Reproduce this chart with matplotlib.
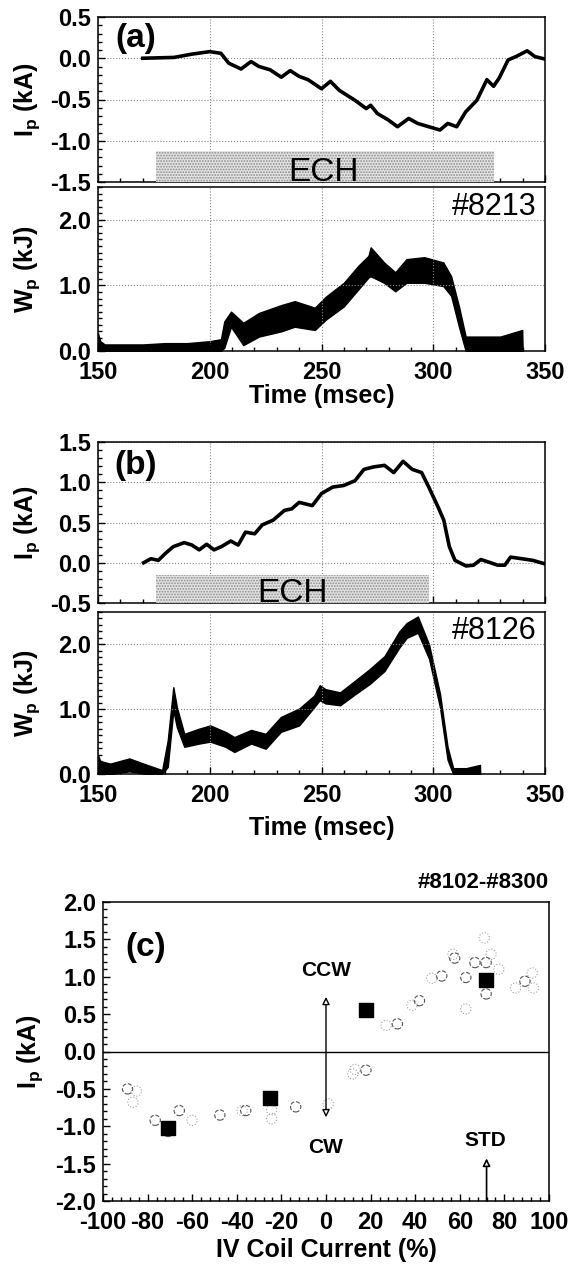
import matplotlib
matplotlib.use('Agg')
import matplotlib.pyplot as plt
from matplotlib.ticker import MultipleLocator, FormatStrFormatter
from matplotlib.patches import Rectangle

plt.rcParams['font.family'] = 'Liberation Sans'
plt.rcParams['font.weight'] = 'bold'
plt.rcParams['axes.labelweight'] = 'bold'
plt.rcParams['axes.titleweight'] = 'bold'
plt.rcParams['axes.unicode_minus'] = False
plt.rcParams['mathtext.fontset'] = 'custom'
plt.rcParams['mathtext.rm'] = 'Liberation Sans:bold'
plt.rcParams['mathtext.it'] = 'Liberation Sans:bold'
plt.rcParams['hatch.linewidth'] = 0.9

# ---- shot #8213 (a) ----
ip_a_t = [170, 184, 192, 200, 205, 208.5, 214, 218.5, 222, 227, 232, 236, 240, 244, 250, 254, 258,
          265, 270, 272, 275, 280, 284, 289, 293, 298, 303, 306.5, 310.5, 314.5, 319.5, 324, 327,
          329.5, 333.5, 337, 342, 345.5, 350]
ip_a = [0.0, 0.01, 0.05, 0.08, 0.06, -0.06, -0.13, -0.04, -0.10, -0.14, -0.23, -0.15, -0.22, -0.26,
        -0.37, -0.28, -0.39, -0.51, -0.61, -0.57, -0.67, -0.75, -0.83, -0.73, -0.79, -0.83, -0.87,
        -0.79, -0.83, -0.65, -0.51, -0.26, -0.34, -0.24, -0.02, 0.02, 0.09, 0.02, -0.01]

wp_a_t = [150, 151, 153, 160, 170, 180, 190, 200, 205, 206.5, 209.5, 215, 222, 232, 238, 247, 252,
          260, 266.5, 271, 272, 278, 283, 288, 296, 304.5, 308, 311.5, 314.5, 320, 330, 339.8, 340]
wp_a_lo = [0, 0, 0, 0, 0, 0, 0, 0, 0, 0.05, 0.37, 0.09, 0.22, 0.30, 0.37, 0.32, 0.48, 0.68, 0.94,
           1.12, 1.14, 1.04, 0.91, 1.04, 1.04, 0.99, 0.84, 0.37, 0.0, 0, 0, 0, 0]
wp_a_hi = [0.27, 0.15, 0.10, 0.10, 0.10, 0.12, 0.12, 0.15, 0.18, 0.45, 0.60, 0.43, 0.58, 0.70, 0.76,
           0.66, 0.83, 1.04, 1.30, 1.45, 1.58, 1.35, 1.20, 1.40, 1.43, 1.35, 1.14, 0.68, 0.22, 0.22,
           0.22, 0.32, 0.0]

# ---- shot #8126 (b) ----
ip_b_t = [170.4, 173.7, 177, 180.3, 183.7, 188.6, 192, 195.3, 198.6, 201.9, 205.2, 209.4, 212.7,
          216, 220.1, 223.5, 228.4, 233.4, 236.7, 240, 245.9, 250, 255, 260, 265, 269, 273.2, 278.2,
          282.3, 286.5, 290.6, 294.8, 298, 302.2, 304.7, 307.2, 309.7, 314.7, 318, 321.3, 324.6,
          328.8, 332, 334.6, 339.6, 344.5, 349.5]
ip_b = [0.0, 0.05, 0.03, 0.12, 0.20, 0.25, 0.22, 0.16, 0.23, 0.16, 0.20, 0.27, 0.22, 0.38, 0.36,
        0.47, 0.53, 0.65, 0.67, 0.75, 0.71, 0.86, 0.94, 0.96, 1.02, 1.16, 1.19, 1.21, 1.12, 1.26,
        1.16, 1.12, 0.94, 0.69, 0.53, 0.20, 0.03, -0.04, -0.03, 0.04, 0.01, -0.03, -0.03, 0.07,
        0.05, 0.03, -0.01]

wp_b_t = [150, 151, 155.5, 164, 172, 178.7, 181.2, 183.7, 185.3, 188.6, 195.3, 200.2, 207, 211,
          218.5, 225, 231.8, 240, 246.7, 249.2, 251.7, 258.3, 265, 271.6, 278.2, 284.8, 288.1,
          293.1, 298.1, 303, 306.4, 308.9, 314.7, 320.9, 321]
wp_b_lo = [0, 0, 0, 0.04, 0, 0, 0.11, 0.98, 0.72, 0.42, 0.47, 0.50, 0.42, 0.34, 0.47, 0.39, 0.65,
           0.75, 1.03, 1.14, 1.09, 1.06, 1.23, 1.39, 1.59, 1.95, 2.10, 2.18, 1.78, 1.03, 0.22, 0,
           0, 0, 0]
wp_b_hi = [0.29, 0.20, 0.16, 0.24, 0.14, 0.06, 0.52, 1.34, 1.03, 0.62, 0.70, 0.75, 0.65, 0.57,
           0.68, 0.62, 0.88, 1.01, 1.21, 1.37, 1.31, 1.26, 1.44, 1.62, 1.82, 2.20, 2.33, 2.43, 2.00,
           1.24, 0.42, 0.09, 0.09, 0.14, 0]

# ---- scan #8102-#8300 (c) ----
sq_x = [-70.8, -24.9, 17.9, 71.8]
sq_y = [-1.03, -0.62, 0.56, 0.95]
circ_x = [57.7, 51.9, 62.7, 66.8, 71.8, 71.8, 89.2, 41.9, 32, 17.9, -89, -76.6, -65.8, -47.6,
          -36, -13.6, -70.8]
circ_y = [1.25, 1.01, 0.99, 1.19, 1.19, 0.77, 0.94, 0.68, 0.37, -0.25, -0.5, -0.92, -0.79, -0.85,
          -0.79, -0.74, -1.07]
faint_x = [47.4, 85, 38.6, 27, 62.7, 71, 77.5, 92.5, 93, 13, 12, -85, -86.6, -60.1, -37.6, -24.4,
           -24.4, 1, 57, 74]
faint_y = [0.98, 0.85, 0.62, 0.35, 0.57, 1.52, 1.1, 1.05, 0.85, -0.24, -0.3, -0.53, -0.68, -0.92,
           -0.79, -0.78, -0.9, -0.7, 1.3, 1.3]

W, H = 578, 1269
fig = plt.figure(figsize=(W / 100, H / 100), dpi=100)


def box(left, top, right, bottom):
    return [left / W, 1 - bottom / H, (right - left) / W, (bottom - top) / H]


def style(ax, xminor, ymajor, yminor):
    ax.tick_params(which='both', direction='in', labelsize=17, width=1)
    ax.tick_params(which='major', length=5)
    ax.tick_params(which='minor', length=3)
    ax.xaxis.set_minor_locator(MultipleLocator(xminor))
    ax.yaxis.set_major_locator(MultipleLocator(ymajor))
    ax.yaxis.set_minor_locator(MultipleLocator(yminor))
    ax.yaxis.set_major_formatter(FormatStrFormatter('%.1f'))
    for s in ax.spines.values():
        s.set_linewidth(1.1)


def time_panels(top_ip, bot_ip, top_wp, bot_wp, t_ip, ip, ylim, t_wp, lo, hi, shot,
                ech, ech_top, ech_x, tag, xl_y):
    ax1 = fig.add_axes(box(98, top_ip, 545, bot_ip))
    ax1.plot(t_ip, ip, color='black', lw=2.6)
    ax1.set_xlim(150, 350)
    ax1.set_ylim(*ylim)
    style(ax1, 10, 0.5, 0.1)
    ax1.tick_params(axis='x', labelbottom=False)
    ax1.tick_params(axis='y', pad=5)
    ax1.xaxis.set_major_locator(MultipleLocator(50))
    ax1.grid(True, which='major', ls=':', color='#888888', lw=0.8)
    ax1.set_ylabel(r'I$_{\mathrm{p}}$ (kA)', fontsize=18)
    ax1.yaxis.set_label_coords(-0.125, 0.5)
    ax1.add_patch(Rectangle((ech[0], ylim[0]), ech[1] - ech[0], ech_top - ylim[0],
                            facecolor='#e4e4e4', hatch='......', edgecolor='#8c8c8c', lw=0,
                            zorder=3, clip_on=False))
    ax1.text(ech_x, ylim[0] + 0.01, 'ECH', ha='center', va='baseline', fontsize=24,
             fontweight='normal', zorder=4)
    ax1.text(0.085, tag[1], tag[0], transform=ax1.transAxes, ha='center', va='center',
             fontsize=24)

    ax2 = fig.add_axes(box(98, top_wp, 545, bot_wp))
    ax2.fill_between(t_wp, lo, hi, color='black', lw=1.0)
    ax2.set_xlim(150, 350)
    ax2.set_ylim(0, 2.5)
    style(ax2, 10, 1.0, 0.1)
    ax2.set_yticks([0, 1, 2])
    ax2.xaxis.set_major_locator(MultipleLocator(50))
    ax2.tick_params(axis='x', pad=7)
    ax2.tick_params(axis='y', pad=5)
    ax2.grid(True, which='major', ls=':', color='#888888', lw=0.8)
    ax2.set_ylabel(r'W$_{\mathrm{p}}$ (kJ)', fontsize=18)
    ax2.yaxis.set_label_coords(-0.125, 0.5)
    ax2.set_xlabel('Time (msec)', fontsize=18)
    ax2.xaxis.set_label_coords(0.5, xl_y)
    ax2.text(0.982, 0.88, shot, transform=ax2.transAxes, ha='right', va='center',
             fontsize=22, fontweight='normal')


time_panels(17, 182, 187, 351, ip_a_t, ip_a, (-1.5, 0.5), wp_a_t, wp_a_lo, wp_a_hi, '#8213',
            (176, 327), -1.13, 251, ('(a)', 0.867), -0.2)
time_panels(442, 603, 612, 774, ip_b_t, ip_b, (-0.5, 1.5), wp_b_t, wp_b_lo, wp_b_hi, '#8126',
            (176, 298), -0.15, 237, ('(b)', 0.857), -0.26)

# ---- panel (c) ----
ax = fig.add_axes(box(103, 902, 549, 1201))
ax.axhline(0, color='black', lw=1)
ax.scatter(faint_x, faint_y, s=55, facecolors='none', edgecolors='#a0a0a0', linewidths=0.8,
           linestyles=':', zorder=2)
ax.scatter(circ_x, circ_y, s=55, facecolors='none', edgecolors='#555555', linewidths=0.8,
           linestyles='--', zorder=3)
ax.scatter(sq_x, sq_y, s=95, marker='s', color='black', zorder=4)
ax.annotate('', xy=(0, 0.73), xytext=(0, -0.88),
            arrowprops=dict(arrowstyle='<|-|>', fc='white', ec='black', lw=1,
                            mutation_scale=11, shrinkA=0, shrinkB=0))
ax.annotate('', xy=(72, -1.43), xytext=(72, -2.0),
            arrowprops=dict(arrowstyle='-|>', fc='white', ec='black', lw=1.2,
                            mutation_scale=11, shrinkA=0, shrinkB=0))
ax.text(0, 1.08, 'CCW', ha='center', va='center', fontsize=15)
ax.text(0, -1.28, 'CW', ha='center', va='center', fontsize=15)
ax.text(71.5, -1.19, 'STD', ha='center', va='center', fontsize=15)
ax.text(-81, 1.39, '(c)', ha='center', va='center', fontsize=24)
ax.set_xlim(-100, 100)
ax.set_ylim(-2.0, 2.0)
style(ax, 4, 0.5, 0.1)
ax.xaxis.set_major_locator(MultipleLocator(20))
ax.tick_params(axis='x', pad=7)
ax.tick_params(axis='y', pad=5)
ax.set_ylabel(r'I$_{\mathrm{p}}$ (kA)', fontsize=18)
ax.yaxis.set_label_coords(-0.13, 0.5)
ax.set_xlabel('IV Coil Current (%)', fontsize=18)
ax.xaxis.set_label_coords(0.5, -0.125)
ax.set_title('#8102-#8300', loc='right', fontsize=16, pad=10)

fig.savefig('out.png', dpi=100)
